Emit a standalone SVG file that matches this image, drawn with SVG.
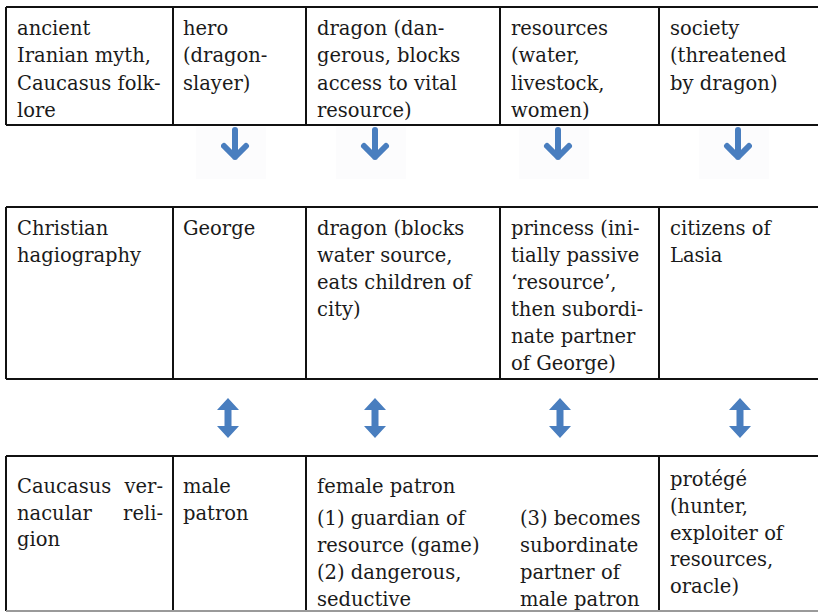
<svg xmlns="http://www.w3.org/2000/svg" width="818" height="613" viewBox="0 0 818 613">
<style>
.t{font-family:"DejaVu Serif","Liberation Serif",serif;font-size:19.5px;fill:#1a1a1a}
.ln{stroke:#111;stroke-width:2;fill:none}
.lg{stroke:#9a9a9a;stroke-width:2;fill:none}
.bg{fill:#fcfcfd}
.da{stroke:#4a7ebf;stroke-width:6;stroke-linecap:round;stroke-linejoin:round;fill:none}
.ba{fill:#4a7ebf}
</style>
<defs>
<filter id="soft" x="-50%" y="-50%" width="200%" height="200%"><feGaussianBlur stdDeviation="0.7"/></filter>
<path id="down" d="M0,130 L0,157 M-11,146 L0,157 L11,146"/>
<path id="dbl" d="M0,398 L11,410 L3.5,410 L3.5,426 L11,426 L0,438 L-11,426 L-3.5,426 L-3.5,410 L-11,410 Z"/>
</defs>
<rect width="818" height="613" fill="#fff"/>

<!-- table borders -->
<g id="grid">
<path class="ln" d="M6,7 H818 M6,125 H818 M6,7 V125 M173,7 V125 M306,7 V125 M500,7 V125 M659,7 V125"/>
<path class="ln" d="M6,207 H818 M6,379 H818 M6,207 V379 M173,207 V379 M306,207 V379 M500,207 V379 M659,207 V379"/>
<path class="ln" d="M6,456 H818 M6,456 V611 M173,456 V611 M306,456 V611 M659,456 V611"/>
<path class="lg" d="M6,611 H818"/>
</g>

<!-- row 1 -->
<g id="r1c1"><text class="t" x="17" y="35"><tspan x="17">ancient</tspan><tspan x="17" dy="27.3">Iranian myth,</tspan><tspan x="17" dy="27.3">Caucasus folk-</tspan><tspan x="17" dy="27.3">lore</tspan></text></g>
<g id="r1c2"><text class="t" x="183" y="35"><tspan x="183">hero</tspan><tspan x="183" dy="27.3">(dragon-</tspan><tspan x="183" dy="27.3">slayer)</tspan></text></g>
<g id="r1c3"><text class="t" x="317" y="35"><tspan x="317">dragon (dan-</tspan><tspan x="317" dy="27.3">gerous, blocks</tspan><tspan x="317" dy="27.3">access to vital</tspan><tspan x="317" dy="27.3">resource)</tspan></text></g>
<g id="r1c4"><text class="t" x="511" y="35"><tspan x="511">resources</tspan><tspan x="511" dy="27.3">(water,</tspan><tspan x="511" dy="27.3">livestock,</tspan><tspan x="511" dy="27.3">women)</tspan></text></g>
<g id="r1c5"><text class="t" x="670" y="35"><tspan x="670">society</tspan><tspan x="670" dy="27.3">(threatened</tspan><tspan x="670" dy="27.3">by dragon)</tspan></text></g>

<!-- row 2 -->
<g id="r2c1"><text class="t" x="17" y="235"><tspan x="17">Christian</tspan><tspan x="17" dy="27">hagiography</tspan></text></g>
<g id="r2c2"><text class="t" x="183" y="235">George</text></g>
<g id="r2c3"><text class="t" x="317" y="235"><tspan x="317">dragon (blocks</tspan><tspan x="317" dy="27">water source,</tspan><tspan x="317" dy="27">eats children of</tspan><tspan x="317" dy="27">city)</tspan></text></g>
<g id="r2c4"><text class="t" x="511" y="235"><tspan x="511">princess (ini-</tspan><tspan x="511" dy="27">tially passive</tspan><tspan x="511" dy="27">‘resource’,</tspan><tspan x="511" dy="27">then subordi-</tspan><tspan x="511" dy="27">nate partner</tspan><tspan x="511" dy="27">of George)</tspan></text></g>
<g id="r2c5"><text class="t" x="670" y="235"><tspan x="670">citizens of</tspan><tspan x="670" dy="27">Lasia</tspan></text></g>

<!-- row 3 -->
<g id="r3c1">
<text class="t" x="17" y="493">Caucasus</text><text class="t" x="163" y="493" text-anchor="end">ver-</text>
<text class="t" x="17" y="519.5">nacular</text><text class="t" x="163" y="519.5" text-anchor="end">reli-</text>
<text class="t" x="17" y="546">gion</text>
</g>
<g id="r3c2"><text class="t" x="183" y="493"><tspan x="183">male</tspan><tspan x="183" dy="26.5">patron</tspan></text></g>
<g id="r3c3">
<text class="t" x="317" y="493">female patron</text>
<text class="t" x="317" y="525"><tspan x="317">(1) guardian of</tspan><tspan x="317" dy="27">resource (game)</tspan><tspan x="317" dy="27">(2) dangerous,</tspan><tspan x="317" dy="27">seductive</tspan></text>
<text class="t" x="520" y="525"><tspan x="520">(3) becomes</tspan><tspan x="520" dy="27">subordinate</tspan><tspan x="520" dy="27">partner of</tspan><tspan x="520" dy="27">male patron</tspan></text>
</g>
<g id="r3c5"><text class="t" x="670" y="486"><tspan x="670">protégé</tspan><tspan x="670" dy="26.8">(hunter,</tspan><tspan x="670" dy="26.8">exploiter of</tspan><tspan x="670" dy="26.8">resources,</tspan><tspan x="670" dy="26.8">oracle)</tspan></text></g>

<!-- connectors -->
<g id="connectors">
<rect class="bg" x="196" y="127" width="70" height="52"/>
<rect class="bg" x="336" y="127" width="70" height="52"/>
<rect class="bg" x="519" y="127" width="70" height="52"/>
<rect class="bg" x="699" y="127" width="70" height="52"/>
<g filter="url(#soft)">
<use href="#down" class="da" x="235"/>
<use href="#down" class="da" x="375"/>
<use href="#down" class="da" x="558"/>
<use href="#down" class="da" x="738"/>
<use href="#dbl" class="ba" x="228"/>
<use href="#dbl" class="ba" x="375"/>
<use href="#dbl" class="ba" x="560"/>
<use href="#dbl" class="ba" x="740"/>
</g>
</g>
</svg>
